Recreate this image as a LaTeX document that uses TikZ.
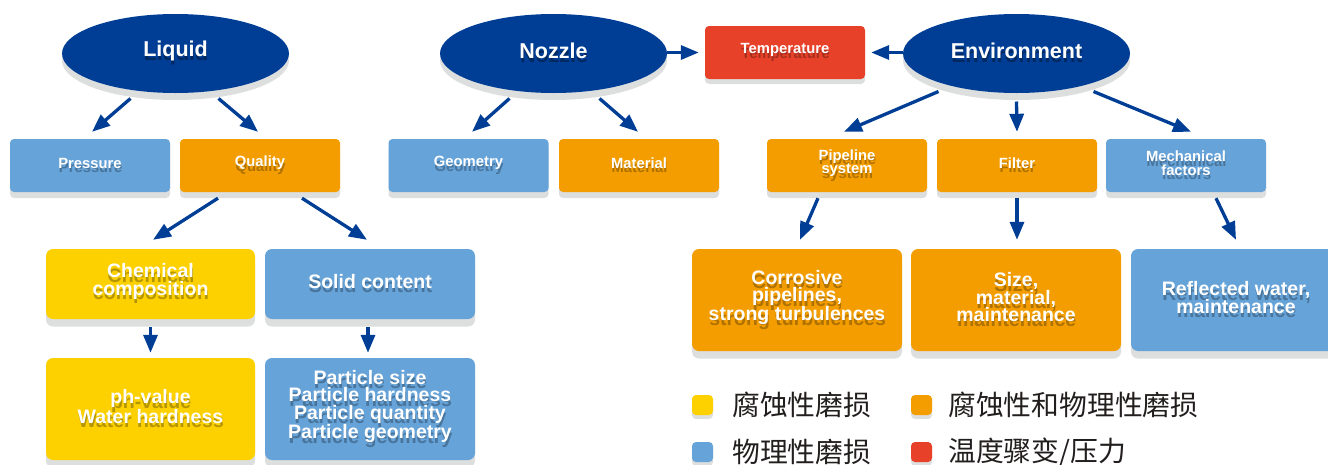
\documentclass[tikz,border=0pt]{standalone}
\usepackage{fontspec}
\setmainfont{Liberation Sans}
\newfontfamily\cjk{Noto Sans CJK SC}
\usetikzlibrary{arrows.meta,shapes.geometric}
\definecolor{dblue}{RGB}{0,62,150}
\definecolor{lblue}{RGB}{102,163,216}
\definecolor{orng}{RGB}{243,157,0}
\definecolor{yell}{RGB}{253,208,0}
\definecolor{tred}{RGB}{232,65,42}
\definecolor{shgray}{RGB}{221,222,222}
\definecolor{legtext}{RGB}{35,30,30}
\tikzset{
  box/.style={rectangle, inner sep=0pt},
  txt/.style={inner sep=0pt, align=center},
  lvlA/.style={rounded corners=4pt, font=\bfseries\fontsize{14.8}{13.5}\selectfont},
  lvlB/.style={rounded corners=7pt, font=\bfseries\fontsize{19.5}{17.5}\selectfont},
  ell/.style={ellipse, inner sep=0pt, minimum width=227pt, minimum height=79pt},
  elltxt/.style={inner sep=0pt, font=\bfseries\fontsize{21.5}{24}\selectfont},
  arr/.style={draw=dblue, line width=3.3pt, -{Triangle[length=18pt,width=14pt]}},
  legsq/.style={rectangle, rounded corners=4pt, inner sep=0pt, minimum width=21pt, minimum height=20pt},
  legtxt/.style={inner sep=0pt, anchor=west, text=legtext, font=\cjk\fontsize{27.8}{30}\selectfont}
}
% name, x, y, w, h, fill, level style, shadow offset, text
\newcommand\mkbox[9]{%
  \node[box, #7, fill=shgray, minimum width=#4pt, minimum height=#5pt] at (#2,#3+#8) {};
  \node[box, #7, fill=#6, minimum width=#4pt, minimum height=#5pt] (#1) at (#2,#3) {};
  \node[txt, #7, text=#6!72!black] at ([xshift=0.6pt,yshift=-2pt]#1.center) {#9};
  \node[txt, #7, text=white] at ([yshift=2.5pt]#1.center) {#9};
}
\newcommand\mkell[4]{% name, x, y, text
  \node[ell, fill=shgray] at (#2,#3+7) {};
  \node[ell, fill=dblue] (#1) at (#2,#3) {};
  \node[elltxt, text=dblue!65!black] at ([xshift=0.6pt,yshift=-1.5pt]#1.center) {#4};
  \node[elltxt, text=white] at ([yshift=3pt]#1.center) {#4};
}
\begin{document}
\begin{tikzpicture}[x=1pt,y=-1pt]
\useasboundingbox (0,0) rectangle (1328,464);
\clip (0,0) rectangle (1328,464);

% ellipses
\mkell{liquid}{175.5}{53.5}{Liquid}
\mkell{nozzle}{553.5}{53.5}{Nozzle}
\mkell{env}{1016.5}{53.5}{Environment}

% level A boxes
\mkbox{temp}{785}{52.5}{160}{53}{tred}{lvlA}{5}{Temperature}
\mkbox{pressure}{90}{165.5}{160}{53}{lblue}{lvlA}{6}{Pressure}
\mkbox{quality}{260}{165.5}{160}{53}{orng}{lvlA}{6}{Quality}
\mkbox{geometry}{468.5}{165.5}{160}{53}{lblue}{lvlA}{6}{Geometry}
\mkbox{material}{639}{165.5}{160}{53}{orng}{lvlA}{6}{Material}
\mkbox{pipeline}{847}{165.5}{160}{53}{orng}{lvlA}{6}{Pipeline\\system}
\mkbox{filter}{1017}{165.5}{160}{53}{orng}{lvlA}{6}{Filter}
\mkbox{mech}{1186}{165.5}{160}{53}{lblue}{lvlA}{6}{Mechanical\\factors}

% level B boxes
\mkbox{chem}{150.5}{284}{209}{70}{yell}{lvlB}{7.5}{Chemical\\composition}
\mkbox{solid}{370}{284}{210}{70}{lblue}{lvlB}{7.5}{Solid content}
\mkbox{ph}{150.5}{409}{209}{102}{yell}{lvlB}{7.5}{ph-value\\Water hardness}
\mkbox{particle}{370}{409}{210}{102}{lblue}{lvlB}{7.5}{Particle size\\Particle hardness\\Particle quantity\\Particle geometry}
\mkbox{corr}{797}{300}{210}{102}{orng}{lvlB}{7.5}{Corrosive\\pipelines,\\strong turbulences}
\mkbox{sizeb}{1016}{300}{210}{102}{orng}{lvlB}{7.5}{Size,\\material,\\maintenance}
\mkbox{refl}{1236}{300}{210}{102}{lblue}{lvlB}{7.5}{Reflected water,\\maintenance}

% arrows
\draw[arr] ([shift={(-45,45)}]liquid.center) -- ([shift={(2,-7)}]pressure.north);
\draw[arr] ([shift={(43,45)}]liquid.center) -- ([shift={(-2,-7)}]quality.north);
\draw[arr] ([shift={(-44,45)}]nozzle.center) -- ([shift={(3.5,-7)}]geometry.north);
\draw[arr] ([shift={(46,45)}]nozzle.center) -- ([shift={(-1,-7)}]material.north);
\draw[arr] (nozzle.east |- temp.west) -- ([xshift=-6pt]temp.west);
\draw[arr] (env.west |- temp.east) -- ([xshift=6pt]temp.east);
\draw[arr] ([shift={(-78,38)}]env.center) -- ([shift={(-3,-7)}]pipeline.north);
\draw[arr] ([shift={(0,48)}]env.center) -- ([shift={(0,-7)}]filter.north);
\draw[arr] ([shift={(77,38)}]env.center) -- ([shift={(5,-7)}]mech.north);
\draw[arr] ([shift={(-42,6)}]quality.south) -- ([shift={(2.5,-9)}]chem.north);
\draw[arr] ([shift={(42,6)}]quality.south) -- ([shift={(-3,-9)}]solid.north);
\draw[arr] ([shift={(0,8)}]chem.south) -- ([shift={(0,-5)}]ph.north);
\draw[arr] ([shift={(-2,8)}]solid.south) -- ([shift={(-2,-5)}]particle.north);
\draw[arr] ([shift={(-29,6)}]pipeline.south) -- ([shift={(3,-9)}]corr.north);
\draw[arr] ([shift={(0,6)}]filter.south) -- ([shift={(1,-9)}]sizeb.north);
\draw[arr] ([shift={(30,6)}]mech.south) -- ([shift={(0,-9)}]refl.north);

% legend
\node[legsq, fill=shgray] at (702.5,409) {};
\node[legsq, fill=yell] (lgy) at (702.5,405) {};
\node[legtxt] (lgyt) at (732,404.5) {腐蚀性磨损};
\node[legsq, fill=shgray] at (921.5,409) {};
\node[legsq, fill=orng] (lgo) at (921.5,405) {};
\node[legtxt] (lgot) at (948,404.5) {腐蚀性和物理性磨损};
\node[legsq, fill=shgray] at (702.5,456) {};
\node[legsq, fill=lblue] (lgb) at (702.5,452) {};
\node[legtxt] (lgbt) at (732,452) {物理性磨损};
\node[legsq, fill=shgray] at (921.5,456) {};
\node[legsq, fill=tred] (lgr) at (921.5,452) {};
\node[legtxt] (lgrt) at (948,452) {温度骤变/压力};
\end{tikzpicture}
\end{document}
